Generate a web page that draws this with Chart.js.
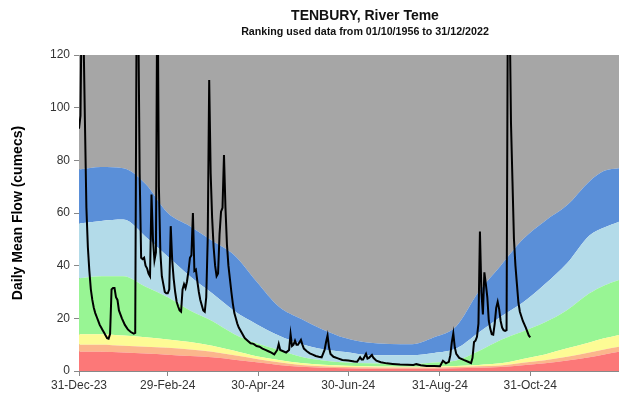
<!DOCTYPE html>
<html>
<head>
<meta charset="utf-8">
<script src="https://cdn.jsdelivr.net/npm/chart.js@4"></script>
<style>
  body { margin: 0; background: #fff; }
  #wrap { width: 619px; height: 399px; position: relative; }
</style>
</head>
<body>
<div id="wrap"><canvas id="flowChart"></canvas></div>
<script>
// day 0 = 31-Dec-23
const tickDays = [0, 60, 121, 182, 244, 305];
const tickLabels = ['31-Dec-23', '29-Feb-24', '30-Apr-24', '30-Jun-24', '31-Aug-24', '31-Oct-24'];

// ranking band upper limits (cumecs), sampled through the year
const bandDays = [0, 15, 30, 45, 60, 75, 90, 105, 120, 135, 150, 165, 180, 195, 210, 225, 240, 255, 270, 285, 300, 315, 330, 345, 355, 365];
const redTop    = [7.3, 7.3, 7.0, 6.6, 6.2, 5.7, 5.2, 4.3, 3.3, 2.3, 1.6, 1.2, 1.0, 0.9, 0.9, 0.9, 0.9, 1.0, 1.2, 1.5, 2.2, 2.9, 4.0, 5.2, 6.3, 7.3];
const orangeTop = [10, 10, 9.6, 9.2, 8.8, 8.2, 7.3, 6.0, 4.6, 3.3, 2.3, 1.8, 1.5, 1.4, 1.3, 1.3, 1.3, 1.5, 1.8, 2.1, 3.1, 4.1, 5.4, 7.0, 8.2, 9.2];
const yellowTop = [14, 14, 13.5, 12.8, 12, 11, 9.6, 7.7, 5.6, 4.2, 3.0, 2.4, 2.0, 1.8, 1.7, 1.6, 1.7, 1.9, 2.3, 2.9, 4.6, 6.3, 8.6, 10.8, 12.4, 13.7];
const greenTop  = [35.2, 36, 36, 32, 28, 23, 19, 14, 10.5, 8, 5.4, 4, 3.2, 2.9, 2.7, 2.6, 3.2, 4, 7.5, 11.8, 15, 18.5, 23.2, 29.5, 32.5, 34.6];
const lblueTop  = [56, 57, 57.5, 51, 43.5, 36, 29.5, 22.8, 17.8, 13.5, 10.3, 8.3, 7.2, 6.1, 6, 6, 6.8, 8.5, 14.5, 20.6, 26, 33, 41, 51.5, 54.5, 56.7];
const blueTop   = [76.5, 77.5, 77, 71, 60, 55, 49.5, 44, 34, 24.5, 19.8, 15.7, 12.5, 10.8, 10.3, 10.2, 12.8, 17, 30, 40, 50, 57, 63, 72, 76, 77];

// daily mean flow 2024 (cumecs)
const flowDays = [0, 1, 2, 3, 4, 5, 6, 7, 8, 9, 10, 11, 12, 13, 14, 15, 16, 17, 18, 19, 20, 21, 22, 23, 24, 25, 26, 27, 29, 31, 33, 35, 37, 38, 39, 40, 41, 42, 43, 44, 45, 46, 47, 48, 49, 50, 51, 52, 53, 54, 55, 56, 57, 58, 59, 60, 61, 62, 63, 64, 65, 66, 67, 68, 69, 70, 71, 72, 73, 74, 75, 76, 77, 78, 79, 80, 81, 82, 83, 84, 85, 86, 87, 88, 89, 90, 91, 92, 93, 94, 95, 96, 97, 98, 99, 100, 101, 102, 103, 104, 105, 106, 107, 108, 110, 112, 114, 116, 118, 120, 122, 124, 126, 128, 130, 132, 134, 135, 136, 138, 140, 142, 143, 144, 145, 146, 147, 148, 150, 151, 152, 154, 156, 158, 160, 162, 164, 166, 167, 168, 169, 170, 172, 175, 178, 182, 186, 188, 190, 191, 192, 194, 195, 196, 198, 199, 201, 204, 208, 212, 217, 222, 226, 228, 231, 235, 240, 244, 246, 248, 250, 251, 252, 253, 254, 255, 257, 260, 263, 265, 266, 267, 268, 269, 270, 271, 272, 273, 274, 275, 276, 277, 278, 279, 280, 281, 282, 283, 284, 285, 286, 287, 288, 289, 290, 291, 292, 293, 294, 295, 296, 297, 298, 300, 302, 304, 305];
const flowValues = [92, 97, 150, 130, 95, 62, 47, 38, 31, 27, 24, 22, 20.5, 19, 17.5, 16.5, 15.5, 14.5, 13.5, 12.5, 12.3, 14, 31, 31.5, 31.5, 28, 27, 23, 20, 17.5, 15.8, 14.8, 14.2, 14.5, 145, 140, 75, 43, 42.5, 43, 40, 39, 37, 36, 67, 50, 42, 45, 160, 70, 45, 36, 33, 30, 29.5, 29.5, 31, 55, 42, 35, 30, 26.3, 24.5, 23, 22.5, 31, 33, 31.5, 34, 38, 43, 44, 60, 38, 38.5, 34, 30, 27, 25, 23, 22.5, 28, 50, 110.5, 75, 58, 47, 40, 36, 37, 52, 60.5, 62, 82, 62, 48, 40, 35, 30, 25.5, 22, 20, 18, 16.5, 14.5, 12.5, 11.5, 10.5, 10.3, 9.5, 9.2, 8.5, 8, 7.5, 7, 6.3, 8, 10.3, 8, 7.5, 7, 8, 14, 9.5, 10, 11.5, 10, 10, 11.8, 10, 8.5, 7.5, 6.7, 6.2, 5.7, 5.4, 5.2, 8, 11, 13.5, 9, 6.5, 5.4, 4.8, 4.2, 4, 3.6, 3.5, 5.2, 4.4, 4.4, 6.5, 4.7, 5, 6.1, 5, 3.9, 3.3, 2.9, 2.7, 2.5, 2.4, 2.3, 2.6, 2.2, 1.9, 1.9, 1.8, 3.9, 2.9, 3.5, 6, 11, 14.3, 9, 6.5, 5, 4.2, 3.5, 3, 5, 11, 11.5, 13, 18, 53, 30, 21.5, 37.5, 33, 28, 19, 16, 14, 13.8, 18, 24, 26.3, 23.5, 19, 16.5, 15.5, 15.2, 15.5, 160, 140, 94, 72, 50, 40, 33, 26, 22.5, 19, 16.5, 13.5, 12.8];

const pts = (xs, ys) => xs.map((x, i) => ({x: x, y: ys[i]}));

function band(data, color, fill) {
  return {
    data: pts(bandDays, data),
    backgroundColor: color,
    borderWidth: 0,
    pointRadius: 0,
    fill: fill,
    cubicInterpolationMode: 'monotone'
  };
}

// titles centred over the plot
const titlePlugin = {
  id: 'titles',
  afterDraw(chart) {
    const c = chart.ctx;
    c.save();
    c.fillStyle = '#111';
    c.textAlign = 'center';
    c.textBaseline = 'middle';
    c.font = 'bold 14px "Liberation Sans", Arial, sans-serif';
    c.fillText('TENBURY, River Teme', 365, 16);
    c.font = 'bold 10.7px "Liberation Sans", Arial, sans-serif';
    c.fillText('Ranking used data from 01/10/1956 to 31/12/2022', 365, 32);
    c.restore();
  }
};

Chart.defaults.font.family = '"Liberation Sans", Arial, sans-serif';

new Chart(document.getElementById('flowChart'), {
  type: 'line',
  data: {
    datasets: [
      {
        data: pts(flowDays, flowValues),
        borderColor: '#000',
        borderWidth: 2,
        pointRadius: 0,
        fill: false,
        tension: 0
      },
      band(redTop, '#fc7878', 'origin'),
      band(orangeTop, '#fbb68c', '-1'),
      band(yellowTop, '#fdfb95', '-1'),
      band(greenTop, '#98f594', '-1'),
      band(lblueTop, '#b3dbe9', '-1'),
      band(blueTop, '#5a8fd8', '-1'),
      band(blueTop, '#a6a6a6', 'end')
    ]
  },
  options: {
    responsive: true,
    maintainAspectRatio: false,
    animation: false,
    layout: { padding: { top: 55, right: 0, left: 0, bottom: 0 } },
    plugins: {
      legend: { display: false },
      tooltip: { enabled: false }
    },
    scales: {
      x: {
        type: 'linear',
        min: 0,
        max: 365,
        afterBuildTicks: s => { s.ticks = tickDays.map(v => ({value: v})); },
        afterFit: s => { s.height = 28; },
        ticks: {
          autoSkip: false,
          maxRotation: 0,
          padding: 2,
          color: '#333',
          font: { size: 12 },
          callback: v => tickLabels[tickDays.indexOf(v)]
        },
        grid: { drawOnChartArea: false, drawTicks: true, tickLength: 5, color: '#888' },
        border: { color: '#888' }
      },
      y: {
        min: 0,
        max: 120,
        afterFit: s => { s.width = 79; },
        ticks: { stepSize: 20, padding: 4, color: '#333', font: { size: 12 } },
        grid: { drawOnChartArea: false, drawTicks: true, tickLength: 5, color: '#888' },
        border: { color: '#888' },
        title: {
          display: true,
          text: 'Daily Mean Flow (cumecs)',
          color: '#000',
          font: { size: 14, weight: 'bold' },
          padding: { top: 10, bottom: 0 }
        }
      }
    }
  },
  plugins: [titlePlugin]
});
</script>
</body>
</html>
